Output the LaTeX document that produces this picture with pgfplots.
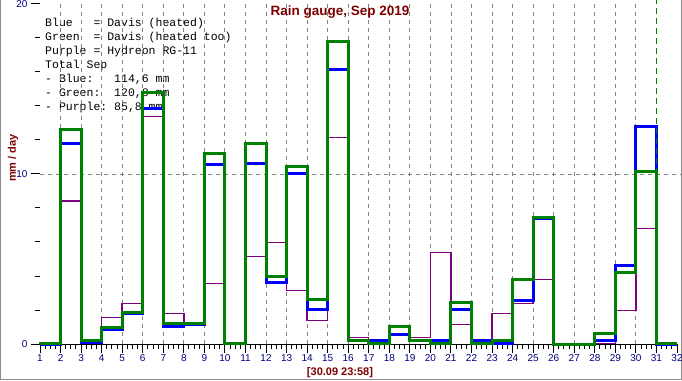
\documentclass[border=0pt]{standalone}
\usepackage{fontspec}
\setmainfont{Liberation Sans}
\setmonofont{Liberation Mono}
\usepackage{pgfplots}
\pgfplotsset{compat=1.18}
\definecolor{cblue}{RGB}{0,0,255}
\definecolor{cgreen}{RGB}{0,128,0}
\definecolor{cpurple}{RGB}{128,0,128}
\definecolor{cmaroon}{RGB}{128,0,0}
\definecolor{cnavy}{RGB}{0,0,128}
\definecolor{cgrid}{RGB}{128,128,128}
\begin{document}
\begin{tikzpicture}[x=1pt,y=1pt]
\useasboundingbox (0,0) rectangle (682,380);
\fill[white] (0,0) rectangle (682,380);
\draw[black!45, line width=1pt] (0.5,380) -- (0.5,0.5) -- (681.5,0.5) -- (681.5,380);
\begin{scope}[every node/.style={anchor=base west, inner sep=0pt, font=\ttfamily\fontsize{11.5}{14}\selectfont}]
\node at (45,353.5) {Blue~~~=~Davis~(heated)};
\node at (45,339.5) {Green~~=~Davis~(heated~too)};
\node at (45,325.5) {Purple~=~Hydreon~RG-11};
\node at (45,311.5) {Total~Sep};
\node at (45,297.5) {-~Blue:~~~114,6~mm};
\node at (45,283.5) {-~Green:~~120,8~mm};
\node at (45,269.5) {-~Purple:~85,8~mm};
\end{scope}
\begin{axis}[
  at={(40pt,36pt)}, anchor=south west, scale only axis,
  width=637pt, height=340pt,
  xmin=1, xmax=32, ymin=0, ymax=20,
  clip=false,
  axis x line*=bottom, axis y line*=left,
  x axis line style={black, line width=1pt},
  y axis line style={draw=none},
  xtick={1,...,32}, minor x tick num=3,
  ytick={0,10,20}, minor ytick={2,4,6,8,12,14,16,18},
  tick align=outside,
  major tick length=9pt, minor tick length=5pt,
  every tick/.style={black, line width=1pt},
  /pgf/number format/assume math mode=true,
  xticklabel style={font=\fontsize{10}{11}\selectfont, text=cnavy, yshift=-0.5pt, inner sep=1pt},
  yticklabel style={font=\fontsize{10}{11}\selectfont, text=cnavy},
  const plot, line join=miter,
]
\pgfplotsinvokeforeach{2,...,30}{\draw[cgrid, line width=0.9pt, dash pattern=on 4pt off 4pt] (axis cs:#1,0) -- (axis cs:#1,20.3);}
\draw[cgrid, line width=0.9pt, dash pattern=on 4pt off 4pt] (axis cs:1,10) -- (axis cs:32.2,10);
% Purple = Hydreon RG-11
\addplot[cpurple, line width=1.4pt, no marks] coordinates {
(1,0) (1,0.02) (2,8.4) (3,0.03) (4,1.57) (5,2.38) (6,13.38) (7,1.8) (8,1.18) (9,3.57) (10,0.02)
(11,5.15) (12,5.98) (13,3.15) (14,1.38) (15,12.15) (16,0.38) (17,0.02) (18,0.98) (19,0.37) (20,5.38)
(21,1.16) (22,0.1) (23,1.8) (24,2.38) (25,3.8) (26,0) (27,0) (28,0.02) (29,1.98) (30,6.8) (31,0) (32,0)};
% Blue = Davis (heated)
\addplot[cblue, line width=3pt, no marks] coordinates {
(1,0) (1,0) (2,11.8) (3,0.08) (4,0.85) (5,1.82) (6,13.85) (7,1.02) (8,1.17) (9,10.58) (10,0.04)
(11,10.6) (12,3.6) (13,10.0) (14,2.02) (15,16.15) (16,0.18) (17,0.2) (18,0.58) (19,0.18) (20,0.2)
(21,2.02) (22,0.2) (23,0.03) (24,2.58) (25,7.4) (26,0) (27,0) (28,0.2) (29,4.6) (30,12.8) (31,0) (32,0)};
% Green = Davis (heated too)
\addplot[cgreen, line width=3pt, no marks] coordinates {
(1,0) (1,0.05) (2,12.6) (3,0.2) (4,1.0) (5,1.84) (6,14.8) (7,1.2) (8,1.2) (9,11.18) (10,0.05)
(11,11.82) (12,4.0) (13,10.42) (14,2.6) (15,17.8) (16,0.2) (17,0.03) (18,1.02) (19,0.2) (20,0.04)
(21,2.42) (22,0.04) (23,0.2) (24,3.82) (25,7.43) (26,0) (27,0) (28,0.6) (29,4.2) (30,10.15) (31,0.02) (32,0.02)};
\draw[cgreen, line width=1.5pt, dash pattern=on 6pt off 4pt] (axis cs:31,0) -- (axis cs:31,20.3);
\end{axis}
\node[font=\bfseries\fontsize{13.5}{15}\selectfont, text=cmaroon] at (340,368) {Rain gauge, Sep 2019};
\node[font=\bfseries\fontsize{11}{13}\selectfont, text=cmaroon, rotate=90] at (13,222) {mm / day};
\node[font=\bfseries\fontsize{11}{12}\selectfont, text=cmaroon, inner sep=1pt] at (340,7.5) {[30.09 23:58]};
\end{tikzpicture}
\end{document}
